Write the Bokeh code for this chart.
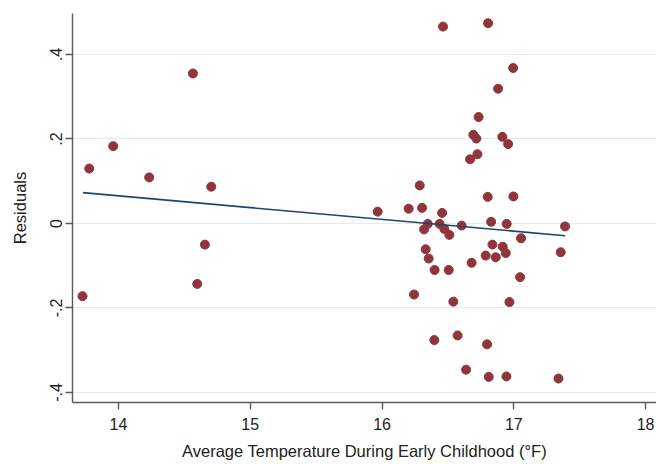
from bokeh.plotting import figure
from bokeh.models import Range1d, FixedTicker
from bokeh.embed import file_html
from bokeh.resources import INLINE

# Data
temperature = [
    13.727, 13.778, 13.960, 14.233, 14.565, 14.704, 14.656, 14.598,
    16.463, 16.805, 16.995, 16.881, 16.733, 16.693, 16.716, 16.913, 16.957,
    16.724, 16.668, 16.286, 16.802, 16.997, 15.967, 16.202, 16.304, 16.456,
    16.347, 16.319, 16.437, 16.473, 16.511, 16.604, 16.828, 16.946, 17.055,
    17.389, 17.356,
    16.331, 16.354, 16.838, 16.916, 16.939, 16.787, 16.863, 16.680, 16.399,
    16.506, 17.048, 16.243, 16.541, 16.967, 16.397, 16.574, 16.797, 16.638,
    16.810, 16.944, 17.339,
]
residuals = [
    -0.172, 0.130, 0.183, 0.109, 0.355, 0.087, -0.050, -0.143,
    0.466, 0.474, 0.368, 0.319, 0.252, 0.210, 0.201, 0.205, 0.188,
    0.164, 0.152, 0.090, 0.063, 0.064, 0.028, 0.035, 0.037, 0.025,
    -0.001, -0.014, -0.001, -0.013, -0.027, -0.005, 0.004, -0.001, -0.035,
    -0.007, -0.068,
    -0.061, -0.083, -0.050, -0.055, -0.070, -0.076, -0.080, -0.093, -0.110,
    -0.110, -0.127, -0.168, -0.185, -0.186, -0.276, -0.265, -0.286, -0.346,
    -0.363, -0.362, -0.367,
]
fit_x = [13.73, 17.39]
fit_y = [0.073, -0.029]

x_ticks = [14, 15, 16, 17, 18]
y_ticks = [-0.4, -0.2, 0, 0.2, 0.4]
y_tick_labels = ["-.4", "-.2", "0", ".2", ".4"]

FONT = "Liberation Sans"
TXT = "#222222"
AXIS = "#5a5a5a"

x_start, x_end = 13.651, 18.083
p = figure(width=656, height=464,
           x_range=Range1d(x_start, x_end), y_range=Range1d(-0.4237, 0.497),
           output_backend="svg", toolbar_location=None,
           min_border_left=72, min_border_right=0, min_border_top=13,
           min_border_bottom=62)
p.outline_line_color = None
p.background_fill_color = "white"
p.border_fill_color = "white"

p.xgrid.grid_line_color = None
p.ygrid.grid_line_color = "#e3ecef"
p.ygrid.grid_line_width = 1.2

p.scatter(temperature, residuals, size=9, color="#90353B", line_color="#90353B")
p.line(fit_x, fit_y, line_color="#1A476F", line_width=1.6)

p.xaxis.ticker = FixedTicker(ticks=x_ticks)
p.yaxis.ticker = FixedTicker(ticks=y_ticks)
p.yaxis.major_label_overrides = {t: l for t, l in zip(y_ticks, y_tick_labels)}
p.yaxis.major_label_orientation = "vertical"

for ax in (p.xaxis, p.yaxis):
    ax.axis_line_color = AXIS
    ax.axis_line_width = 1.4
    ax.major_tick_line_color = AXIS
    ax.major_tick_line_width = 1.4
    ax.major_tick_out = 7
    ax.major_tick_in = 0
    ax.minor_tick_line_color = None
    ax.major_label_text_font = FONT
    ax.major_label_text_font_size = "16px"
    ax.major_label_text_color = TXT
    ax.axis_label_text_font = FONT
    ax.axis_label_text_font_size = "16.5px"
    ax.axis_label_text_font_style = "normal"
    ax.axis_label_text_color = TXT

p.xaxis.major_label_standoff = 8
p.yaxis.major_label_standoff = 3
p.xaxis.axis_label = "Average Temperature During Early Childhood (°F)"
p.xaxis.axis_label_standoff = 9
p.yaxis.axis_label = "Residuals"
p.yaxis.axis_label_standoff = 19

open("out.html", "w").write(file_html(p, INLINE))
